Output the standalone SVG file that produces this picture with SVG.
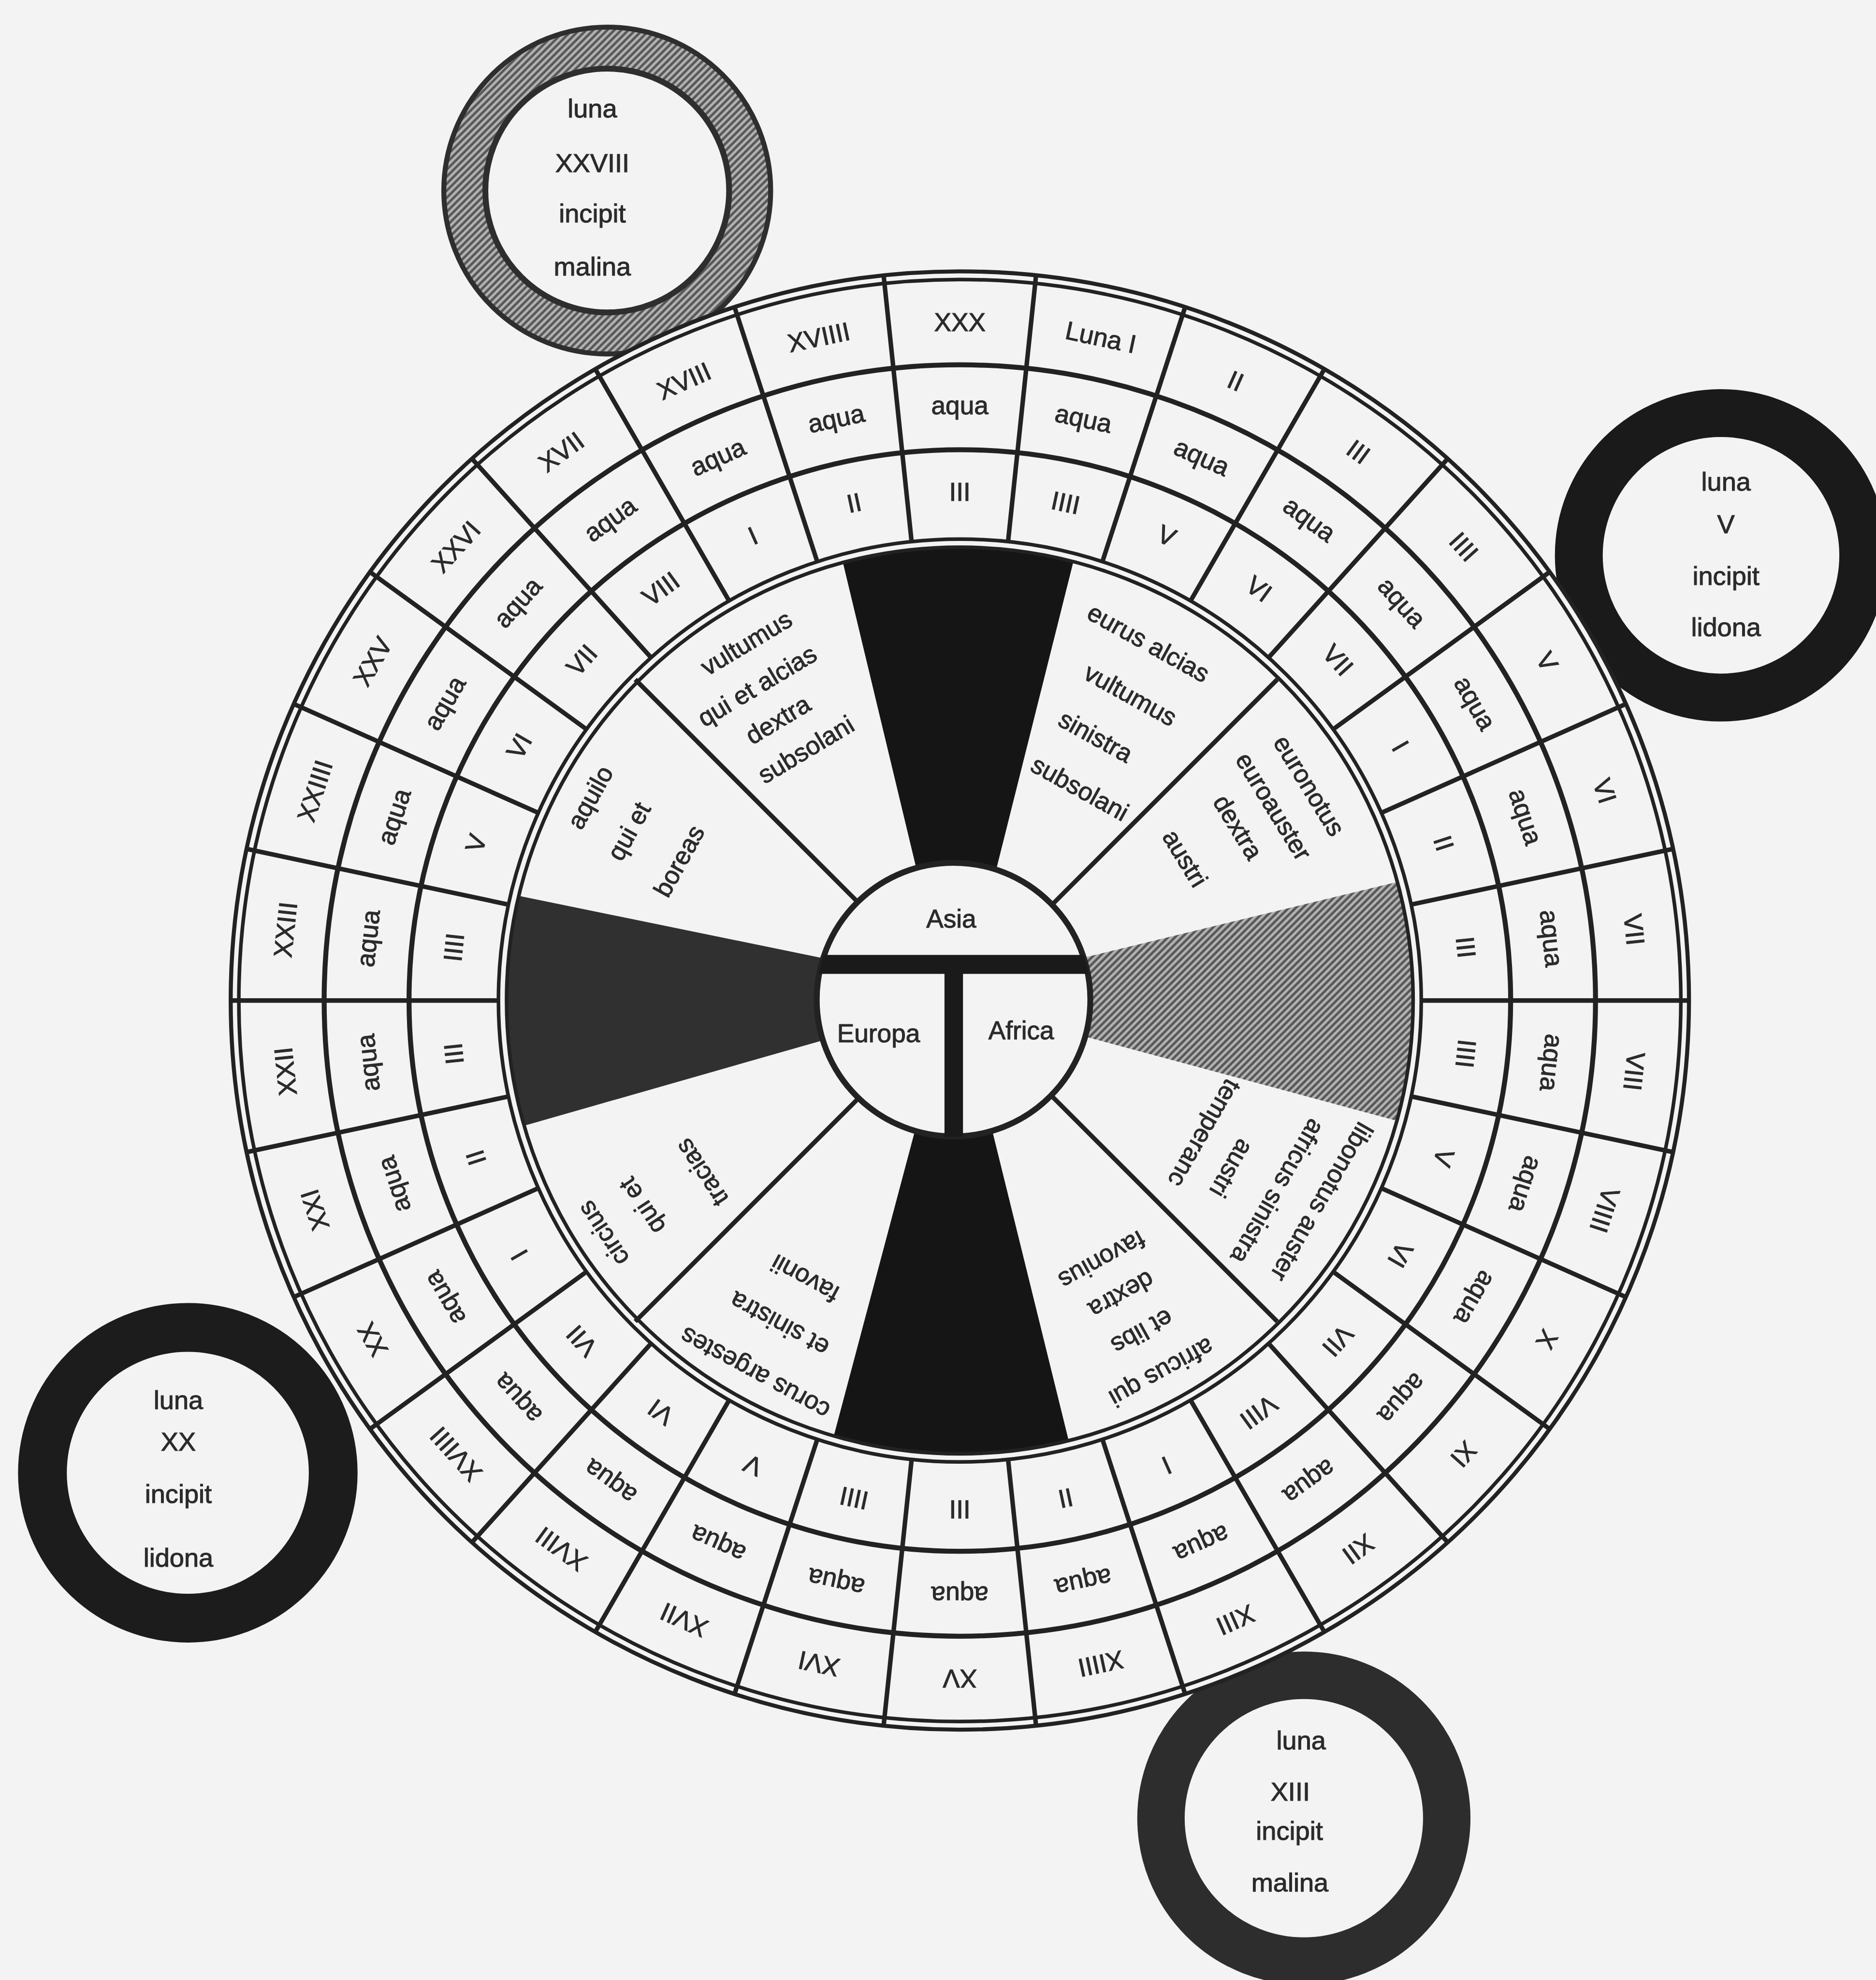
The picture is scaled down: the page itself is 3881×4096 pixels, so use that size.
<svg xmlns="http://www.w3.org/2000/svg" width="3881" height="4096" viewBox="0 0 3881 4096">
<defs>
<style>
.t{font-family:"Liberation Sans",Arial,sans-serif;font-size:57px;fill:#2b2b2b;stroke:#2b2b2b;stroke-width:1.2px;text-anchor:middle;dominant-baseline:central}
.w{font-family:"Liberation Sans",Arial,sans-serif;font-size:56px;fill:#2b2b2b;stroke:#2b2b2b;stroke-width:1.2px;text-anchor:middle;dominant-baseline:central}
.c{font-family:"Liberation Sans",Arial,sans-serif;font-size:58px;fill:#2b2b2b;stroke:#2b2b2b;stroke-width:1.2px;text-anchor:middle}
.ln{stroke:#222;fill:none}
.rl{stroke:#222;stroke-width:10}
</style>
<pattern id="hatch" patternUnits="userSpaceOnUse" width="11" height="11" patternTransform="rotate(45)"><rect width="11" height="11" fill="#585858"/><rect width="5.5" height="11" fill="#b2b2b2"/></pattern>
<clipPath id="inner"><circle cx="2126" cy="2216" r="1003"/></clipPath>
<clipPath id="cc"><circle cx="2112" cy="2214" r="304"/></clipPath>
</defs>
<rect width="3881" height="4096" fill="#f3f3f3"/>
<g transform="scale(0.934)">

<g id="moon-xxviii">
<circle cx="1345" cy="422" r="316" fill="none" stroke="url(#hatch)" stroke-width="100"/>
<circle cx="1345" cy="422" r="270" fill="#f3f3f3" stroke="#2e2e2e" stroke-width="13"/>
<circle cx="1345" cy="422" r="362" fill="none" stroke="#2e2e2e" stroke-width="11"/>
<text class="c" x="1312" y="260">luna</text>
<text class="c" x="1312" y="381">XXVIII</text>
<text class="c" x="1312" y="493">incipit</text>
<text class="c" x="1312" y="610">malina</text>
</g>
<g id="moon-v">
<circle cx="3812" cy="1230" r="315" fill="#f3f3f3" stroke="#1a1a1a" stroke-width="106"/>
<text class="c" x="3823" y="1087">luna</text>
<text class="c" x="3823" y="1181">V</text>
<text class="c" x="3823" y="1295">incipit</text>
<text class="c" x="3823" y="1409">lidona</text>
</g>
<g id="moon-xx">
<circle cx="416" cy="3262" r="322" fill="#f3f3f3" stroke="#1c1c1c" stroke-width="108"/>
<text class="c" x="395" y="3121">luna</text>
<text class="c" x="395" y="3213">XX</text>
<text class="c" x="395" y="3329">incipit</text>
<text class="c" x="395" y="3470">lidona</text>
</g>
<g id="moon-xiii">
<circle cx="2888" cy="4027" r="316.5" fill="#f3f3f3" stroke="#2d2d2d" stroke-width="105"/>
<text class="c" x="2882" y="3875">luna</text>
<text class="c" x="2858" y="3988">XIII</text>
<text class="c" x="2856" y="4075">incipit</text>
<text class="c" x="2857" y="4190">malina</text>
</g>

<g id="wheel">
<circle cx="2126" cy="2216" r="1615" fill="#f3f3f3"/>
<g id="wedges" clip-path="url(#inner)">
<polygon id="wedge-top" points="2048,2000 1844,1150 2401,1150 2188,2000" fill="#151515"/>
<polygon id="wedge-left" points="1900,2138 1050,1964 1050,2525 1900,2282" fill="#303030"/>
<polygon id="wedge-right" points="2330,2138 3200,1928 3200,2511 2330,2276" fill="url(#hatch)"/>
<polygon id="wedge-bottom" points="2049,2420 1815,3300 2394,3300 2177,2420" fill="#151515"/>
</g>
<g id="connectors">
<g id="wind-lines" class="rl">
<line x1="1906" y1="2004" x2="1407" y2="1505"/>
<line x1="2330" y1="2004" x2="2829" y2="1505"/>
<line x1="2330" y1="2428" x2="2829" y2="2927"/>
<line x1="1906" y1="2428" x2="1407" y2="2927"/>
</g>
<g id="rings" class="ln">
<circle cx="2126" cy="2216" r="1615" stroke-width="9"/>
<circle cx="2126" cy="2216" r="1597" stroke-width="8"/>
<circle cx="2126" cy="2216" r="1408" stroke-width="11"/>
<circle cx="2126" cy="2216" r="1220" stroke-width="11"/>
<circle cx="2126" cy="2216" r="1022" stroke-width="8"/>
<circle cx="2126" cy="2216" r="1004" stroke-width="8"/>
</g>
<g id="spokes" class="rl">
<line x1="2232.8" y1="1199.6" x2="2294.8" y2="609.9"/>
<line x1="2232.8" y1="1199.6" x2="2294.8" y2="609.9" transform="rotate(12 2126 2216)"/>
<line x1="2232.8" y1="1199.6" x2="2294.8" y2="609.9" transform="rotate(24 2126 2216)"/>
<line x1="2232.8" y1="1199.6" x2="2294.8" y2="609.9" transform="rotate(36 2126 2216)"/>
<line x1="2232.8" y1="1199.6" x2="2294.8" y2="609.9" transform="rotate(48 2126 2216)"/>
<line x1="2232.8" y1="1199.6" x2="2294.8" y2="609.9" transform="rotate(60 2126 2216)"/>
<line x1="2232.8" y1="1199.6" x2="2294.8" y2="609.9" transform="rotate(72 2126 2216)"/>
<line x1="2232.8" y1="1199.6" x2="2294.8" y2="609.9" transform="rotate(84 2126 2216)"/>
<line x1="2232.8" y1="1199.6" x2="2294.8" y2="609.9" transform="rotate(96 2126 2216)"/>
<line x1="2232.8" y1="1199.6" x2="2294.8" y2="609.9" transform="rotate(108 2126 2216)"/>
<line x1="2232.8" y1="1199.6" x2="2294.8" y2="609.9" transform="rotate(120 2126 2216)"/>
<line x1="2232.8" y1="1199.6" x2="2294.8" y2="609.9" transform="rotate(132 2126 2216)"/>
<line x1="2232.8" y1="1199.6" x2="2294.8" y2="609.9" transform="rotate(144 2126 2216)"/>
<line x1="2232.8" y1="1199.6" x2="2294.8" y2="609.9" transform="rotate(156 2126 2216)"/>
<line x1="2232.8" y1="1199.6" x2="2294.8" y2="609.9" transform="rotate(168 2126 2216)"/>
<line x1="2232.8" y1="1199.6" x2="2294.8" y2="609.9" transform="rotate(180 2126 2216)"/>
<line x1="2232.8" y1="1199.6" x2="2294.8" y2="609.9" transform="rotate(192 2126 2216)"/>
<line x1="2232.8" y1="1199.6" x2="2294.8" y2="609.9" transform="rotate(204 2126 2216)"/>
<line x1="2232.8" y1="1199.6" x2="2294.8" y2="609.9" transform="rotate(216 2126 2216)"/>
<line x1="2232.8" y1="1199.6" x2="2294.8" y2="609.9" transform="rotate(228 2126 2216)"/>
<line x1="2232.8" y1="1199.6" x2="2294.8" y2="609.9" transform="rotate(240 2126 2216)"/>
<line x1="2232.8" y1="1199.6" x2="2294.8" y2="609.9" transform="rotate(252 2126 2216)"/>
<line x1="2232.8" y1="1199.6" x2="2294.8" y2="609.9" transform="rotate(264 2126 2216)"/>
<line x1="2232.8" y1="1199.6" x2="2294.8" y2="609.9" transform="rotate(276 2126 2216)"/>
<line x1="2232.8" y1="1199.6" x2="2294.8" y2="609.9" transform="rotate(288 2126 2216)"/>
<line x1="2232.8" y1="1199.6" x2="2294.8" y2="609.9" transform="rotate(300 2126 2216)"/>
<line x1="2232.8" y1="1199.6" x2="2294.8" y2="609.9" transform="rotate(312 2126 2216)"/>
<line x1="2232.8" y1="1199.6" x2="2294.8" y2="609.9" transform="rotate(324 2126 2216)"/>
<line x1="2232.8" y1="1199.6" x2="2294.8" y2="609.9" transform="rotate(336 2126 2216)"/>
<line x1="2232.8" y1="1199.6" x2="2294.8" y2="609.9" transform="rotate(348 2126 2216)"/>
</g>
</g>

<g id="center-orb">
<circle cx="2112" cy="2214" r="303" fill="#f3f3f3" stroke="#222" stroke-width="13"/>
<g clip-path="url(#cc)" fill="#1a1a1a">
<rect x="1790" y="2115" width="650" height="42"/>
<rect x="2092" y="2136" width="41" height="400"/>
</g>
<text class="c" style="font-size:57px" x="2107" y="2055">Asia</text>
<text class="c" style="font-size:57px" x="1946" y="2308">Europa</text>
<text class="c" style="font-size:57px" x="2262" y="2302">Africa</text>
</g>

<g id="days">
<g><text class="t" x="2126" y="714">XXX</text><text class="t" x="2126" y="898">aqua</text><text class="t" x="2126" y="1089">III</text></g>
<g transform="rotate(12 2126 2216)"><text class="t" x="2126" y="714">Luna I</text><text class="t" x="2126" y="898">aqua</text><text class="t" x="2126" y="1089">IIII</text></g>
<g transform="rotate(24 2126 2216)"><text class="t" x="2126" y="714">II</text><text class="t" x="2126" y="898">aqua</text><text class="t" x="2126" y="1089">V</text></g>
<g transform="rotate(36 2126 2216)"><text class="t" x="2126" y="714">III</text><text class="t" x="2126" y="898">aqua</text><text class="t" x="2126" y="1089">VI</text></g>
<g transform="rotate(48 2126 2216)"><text class="t" x="2126" y="714">IIII</text><text class="t" x="2126" y="898">aqua</text><text class="t" x="2126" y="1089">VII</text></g>
<g transform="rotate(60 2126 2216)"><text class="t" x="2126" y="714">V</text><text class="t" x="2126" y="898">aqua</text><text class="t" x="2126" y="1089">I</text></g>
<g transform="rotate(72 2126 2216)"><text class="t" x="2126" y="714">VI</text><text class="t" x="2126" y="898">aqua</text><text class="t" x="2126" y="1089">II</text></g>
<g transform="rotate(84 2126 2216)"><text class="t" x="2126" y="714">VII</text><text class="t" x="2126" y="898">aqua</text><text class="t" x="2126" y="1089">III</text></g>
<g transform="rotate(96 2126 2216)"><text class="t" x="2126" y="714">VIII</text><text class="t" x="2126" y="898">aqua</text><text class="t" x="2126" y="1089">IIII</text></g>
<g transform="rotate(108 2126 2216)"><text class="t" x="2126" y="714">VIIII</text><text class="t" x="2126" y="898">aqua</text><text class="t" x="2126" y="1089">V</text></g>
<g transform="rotate(120 2126 2216)"><text class="t" x="2126" y="714">X</text><text class="t" x="2126" y="898">aqua</text><text class="t" x="2126" y="1089">VI</text></g>
<g transform="rotate(132 2126 2216)"><text class="t" x="2126" y="714">XI</text><text class="t" x="2126" y="898">aqua</text><text class="t" x="2126" y="1089">VII</text></g>
<g transform="rotate(144 2126 2216)"><text class="t" x="2126" y="714">XII</text><text class="t" x="2126" y="898">aqua</text><text class="t" x="2126" y="1089">VIII</text></g>
<g transform="rotate(156 2126 2216)"><text class="t" x="2126" y="714">XIII</text><text class="t" x="2126" y="898">aqua</text><text class="t" x="2126" y="1089">I</text></g>
<g transform="rotate(168 2126 2216)"><text class="t" x="2126" y="714">XIIII</text><text class="t" x="2126" y="898">aqua</text><text class="t" x="2126" y="1089">II</text></g>
<g transform="rotate(180 2126 2216)"><text class="t" x="2126" y="714">XV</text><text class="t" x="2126" y="898">aqua</text><text class="t" x="2126" y="1089">III</text></g>
<g transform="rotate(192 2126 2216)"><text class="t" x="2126" y="714">XVI</text><text class="t" x="2126" y="898">aqua</text><text class="t" x="2126" y="1089">IIII</text></g>
<g transform="rotate(204 2126 2216)"><text class="t" x="2126" y="714">XVII</text><text class="t" x="2126" y="898">aqua</text><text class="t" x="2126" y="1089">V</text></g>
<g transform="rotate(216 2126 2216)"><text class="t" x="2126" y="714">XVIII</text><text class="t" x="2126" y="898">aqua</text><text class="t" x="2126" y="1089">VI</text></g>
<g transform="rotate(228 2126 2216)"><text class="t" x="2126" y="714">XVIIII</text><text class="t" x="2126" y="898">aqua</text><text class="t" x="2126" y="1089">VII</text></g>
<g transform="rotate(240 2126 2216)"><text class="t" x="2126" y="714">XX</text><text class="t" x="2126" y="898">aqua</text><text class="t" x="2126" y="1089">I</text></g>
<g transform="rotate(252 2126 2216)"><text class="t" x="2126" y="714">XXI</text><text class="t" x="2126" y="898">aqua</text><text class="t" x="2126" y="1089">II</text></g>
<g transform="rotate(264 2126 2216)"><text class="t" x="2126" y="714">XXII</text><text class="t" x="2126" y="898">aqua</text><text class="t" x="2126" y="1089">III</text></g>
<g transform="rotate(276 2126 2216)"><text class="t" x="2126" y="714">XXIII</text><text class="t" x="2126" y="898">aqua</text><text class="t" x="2126" y="1089">IIII</text></g>
<g transform="rotate(288 2126 2216)"><text class="t" x="2126" y="714">XXIIII</text><text class="t" x="2126" y="898">aqua</text><text class="t" x="2126" y="1089">V</text></g>
<g transform="rotate(300 2126 2216)"><text class="t" x="2126" y="714">XXV</text><text class="t" x="2126" y="898">aqua</text><text class="t" x="2126" y="1089">VI</text></g>
<g transform="rotate(312 2126 2216)"><text class="t" x="2126" y="714">XXVI</text><text class="t" x="2126" y="898">aqua</text><text class="t" x="2126" y="1089">VII</text></g>
<g transform="rotate(324 2126 2216)"><text class="t" x="2126" y="714">XVII</text><text class="t" x="2126" y="898">aqua</text><text class="t" x="2126" y="1089">VIII</text></g>
<g transform="rotate(336 2126 2216)"><text class="t" x="2126" y="714">XVIII</text><text class="t" x="2126" y="898">aqua</text><text class="t" x="2126" y="1089">I</text></g>
<g transform="rotate(348 2126 2216)"><text class="t" x="2126" y="714">XVIIII</text><text class="t" x="2126" y="898">aqua</text><text class="t" x="2126" y="1089">II</text></g>
</g>

<g id="winds">
<g id="wind-a">
<text class="w" transform="translate(1653 1424) rotate(-31)">vultumus</text>
<text class="w" transform="translate(1677 1519) rotate(-31)">qui et alcias</text>
<text class="w" transform="translate(1723 1594) rotate(-31)">dextra</text>
<text class="w" transform="translate(1785 1660) rotate(-31)">subsolani</text>
</g>
<g id="wind-b">
<text class="w" transform="translate(1307 1766) rotate(-61)">aquilo</text>
<text class="w" transform="translate(1393 1841) rotate(-61)">qui et</text>
<text class="w" transform="translate(1504 1907) rotate(-61)">boreas</text>
</g>
<g id="wind-c">
<text class="w" transform="translate(2544 1424) rotate(29)">eurus alcias</text>
<text class="w" transform="translate(2504 1539) rotate(29)">vultumus</text>
<text class="w" transform="translate(2427 1631) rotate(29)">sinistra</text>
<text class="w" transform="translate(2392 1746) rotate(29)">subsolani</text>
</g>
<g id="wind-d">
<text class="w" transform="translate(2900 1740) rotate(58.5)">euronotus</text>
<text class="w" transform="translate(2821 1786) rotate(58.5)">euroauster</text>
<text class="w" transform="translate(2742 1832) rotate(58.5)">dextra</text>
<text class="w" transform="translate(2625 1901) rotate(58.5)">austri</text>
</g>
<g id="wind-e">
<text class="w" transform="translate(2928 2662) rotate(120)">libonotus auster</text>
<text class="w" transform="translate(2830 2639) rotate(120)">africus sinistra</text>
<text class="w" transform="translate(2728 2588) rotate(120)">austri</text>
<text class="w" transform="translate(2668 2510) rotate(120)">temperanc</text>
</g>
<g id="wind-f">
<text class="w" transform="translate(2573 3040) rotate(151)">africus qui</text>
<text class="w" transform="translate(2530 2950) rotate(151)">et libs</text>
<text class="w" transform="translate(2484 2868) rotate(151)">dextra</text>
<text class="w" transform="translate(2441 2791) rotate(151)">favonius</text>
</g>
<g id="wind-g">
<text class="w" transform="translate(1672 3042) rotate(208.5)">corus argestes</text>
<text class="w" transform="translate(1726 2933) rotate(208.5)">et sinistra</text>
<text class="w" transform="translate(1783 2832) rotate(208.5)">favonii</text>
</g>
<g id="wind-h">
<text class="w" transform="translate(1336 2732) rotate(236.5)">circius</text>
<text class="w" transform="translate(1422 2671) rotate(236.5)">qui et</text>
<text class="w" transform="translate(1554 2597) rotate(236.5)">tracias</text>
</g>
</g>
</g>
</g>
</svg>
